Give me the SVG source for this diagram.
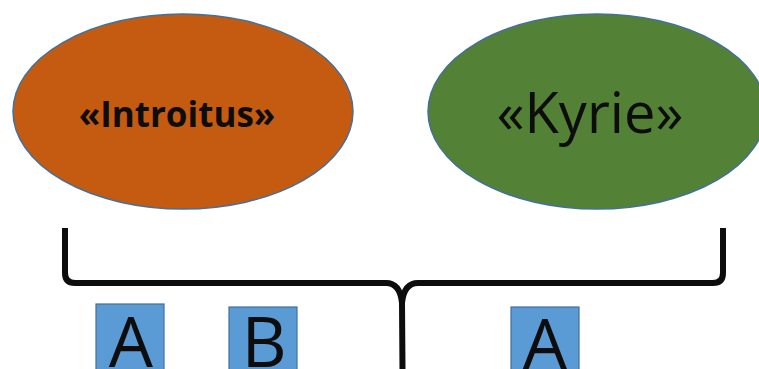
<svg xmlns="http://www.w3.org/2000/svg" width="759" height="369" viewBox="0 0 759 369">
<style>
.ell{stroke:#41719c;stroke-width:1.5}
.box{fill:#5b9bd5;stroke:#41719c;stroke-width:1.2}
.lbl{font-family:"Open Sans","Liberation Sans",sans-serif;fill:#0d0d0d;text-anchor:middle}
.big{font-size:70px}
.brace{fill:none;stroke:#0d0d0d;stroke-width:6;stroke-linejoin:round}
</style>
<rect width="759" height="369" fill="#ffffff"/>
<g id="introitus">
<ellipse class="ell" cx="183" cy="111.5" rx="170" ry="97.5" fill="#c55a11"/>
<text class="lbl" x="177" y="127" font-size="35" font-weight="bold">«Introitus»</text>
</g>
<g id="kyrie">
<ellipse class="ell" cx="597" cy="111.5" rx="169" ry="97.5" fill="#538135"/>
<text class="lbl" x="590" y="133" font-size="56">«Kyrie»</text>
</g>
<g id="connectors">
<path class="brace" d="M65 228 L65 273 Q65 283 75 283 L386 283 Q400 283 402 303 L402.5 369"/>
<path class="brace" d="M723 228 L723 273 Q723 283 713 283 L418 283 Q404 283 402 303"/>
</g>
<g id="boxA1">
<rect class="box" x="96" y="304" width="68" height="70"/>
<text class="lbl big" x="131" y="367">A</text>
</g>
<g id="boxB">
<rect class="box" x="229" y="307" width="68" height="70"/>
<text class="lbl big" x="264" y="367">B</text>
</g>
<g id="boxA2">
<rect class="box" x="511" y="307" width="68" height="70"/>
<text class="lbl big" x="545" y="369">A</text>
</g>
</svg>
